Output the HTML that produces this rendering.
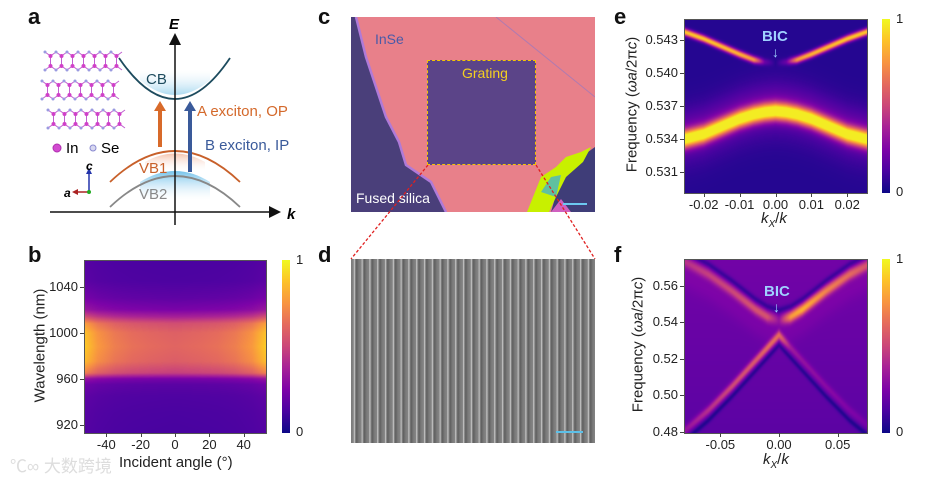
<!DOCTYPE html>
<html><head><meta charset="utf-8">
<style>
html,body{margin:0;padding:0;background:#fff;}
#root{position:relative;width:940px;height:486px;overflow:hidden;font-family:"Liberation Sans",Arial,sans-serif;color:#222;}
.abs{position:absolute;}
.lbl{position:absolute;font-weight:bold;font-size:22px;color:#111;}
.tick{position:absolute;font-size:13px;color:#222;white-space:nowrap;}
.ytl{text-align:right;width:40px;}
.xtl{text-align:center;width:40px;}
canvas{position:absolute;}
.cbar{position:absolute;width:8px;background:linear-gradient(to top,#0d0887,#4b03a1 13%,#7d03a8 25%,#a82296 38%,#cb4679 50%,#e56b5d 63%,#f89441 75%,#fdc328 88%,#f0f921);}
.axtitle{position:absolute;font-size:15px;color:#222;white-space:nowrap;}
</style></head>
<body>
<div id="root">

<div class="lbl" style="left:28px;top:4px">a</div>
<div class="lbl" style="left:28px;top:242px">b</div>
<div class="lbl" style="left:318px;top:4px">c</div>
<div class="lbl" style="left:318px;top:242px">d</div>
<div class="lbl" style="left:614px;top:4px">e</div>
<div class="lbl" style="left:614px;top:242px">f</div>

<!-- panel a -->
<svg class="abs" style="left:0;top:0" width="320" height="240">
<defs>
<linearGradient id="cbfill" x1="0" y1="1" x2="0" y2="0"><stop offset="0" stop-color="#7cc5e8" stop-opacity="0.9"/><stop offset="1" stop-color="#d8eef8" stop-opacity="0"/></linearGradient>
<linearGradient id="vbfill" x1="0" y1="0" x2="0" y2="1"><stop offset="0" stop-color="#6cc0ea" stop-opacity="0.95"/><stop offset="1" stop-color="#e0f0fa" stop-opacity="0"/></linearGradient>
<linearGradient id="vb1fill" x1="0" y1="0" x2="0" y2="1"><stop offset="0" stop-color="#f3b59a" stop-opacity="0.8"/><stop offset="1" stop-color="#fff" stop-opacity="0"/></linearGradient>
<marker id="ah" markerWidth="8" markerHeight="8" refX="6" refY="4" orient="auto"><path d="M0,0 L8,4 L0,8 z" fill="#111"/></marker>
</defs>
<path d="M140,80 Q175,110 210,80 L210,70 L140,70 Z" fill="url(#cbfill)" opacity="0.7"/>
<path d="M140,182 Q175,160 210,182 L210,200 L140,200 Z" fill="url(#vbfill)"/>
<path d="M145,162 Q175,145 205,162 L205,172 L145,172 Z" fill="url(#vb1fill)"/>
<path d="M119,58 Q175,140 230,58" fill="none" stroke="#1d4b5e" stroke-width="1.8"/>
<path d="M110,182 Q175,120 240,182" fill="none" stroke="#c8602a" stroke-width="1.8"/>
<path d="M110,207 Q175,145 240,207" fill="none" stroke="#888" stroke-width="1.8"/>
<line x1="175" y1="225" x2="175" y2="36" stroke="#111" stroke-width="1.5" marker-end="url(#ah)"/>
<line x1="50" y1="212" x2="278" y2="212" stroke="#111" stroke-width="1.5" marker-end="url(#ah)"/>
<text x="169" y="29" font-size="15" font-weight="bold" font-style="italic" font-family="Liberation Sans">E</text>
<text x="287" y="219" font-size="15" font-weight="bold" font-style="italic" font-family="Liberation Sans">k</text>
<text x="146" y="84" font-size="15" fill="#1d4b5e" font-family="Liberation Sans">CB</text>
<text x="139" y="173" font-size="15" fill="#c8602a" font-family="Liberation Sans">VB1</text>
<text x="139" y="199" font-size="15" fill="#888" font-family="Liberation Sans">VB2</text>
<line x1="160" y1="147" x2="160" y2="110" stroke="#d86a2a" stroke-width="4"/>
<path d="M154,111 L160,101 L166,111 Z" fill="#d86a2a"/>
<line x1="190" y1="172" x2="190" y2="110" stroke="#3a5a9a" stroke-width="4"/>
<path d="M184,111 L190,101 L196,111 Z" fill="#3a5a9a"/>
<text x="197" y="116" font-size="15" fill="#d4692b" font-family="Liberation Sans">A exciton, OP</text>
<text x="205" y="150" font-size="15" fill="#3a5a9a" font-family="Liberation Sans">B exciton, IP</text>
<g id="crystal"></g>
<circle cx="57" cy="148" r="4" fill="#d24bd0" stroke="#b030b0"/>
<text x="66" y="153" font-size="15" font-family="Liberation Sans">In</text>
<circle cx="93" cy="148" r="3" fill="#d8d8f0" stroke="#8a8ad0"/>
<text x="101" y="153" font-size="15" font-family="Liberation Sans">Se</text>
<line x1="89" y1="192" x2="89" y2="172" stroke="#2233aa" stroke-width="1.5"/><path d="M86,174 L89,168 L92,174Z" fill="#2233aa"/>
<line x1="89" y1="192" x2="76" y2="192" stroke="#aa2222" stroke-width="1.5"/><path d="M78,189 L72,192 L78,195Z" fill="#aa2222"/>
<circle cx="89" cy="192" r="2" fill="#22aa22"/>
<text x="86" y="170" font-size="12" font-weight="bold" font-style="italic" font-family="Liberation Sans">c</text>
<text x="64" y="197" font-size="12" font-weight="bold" font-style="italic" font-family="Liberation Sans">a</text>
</svg>

<!-- panel b -->
<canvas id="cb" width="182" height="173" style="left:84px;top:260px"></canvas>
<div class="abs" style="left:84px;top:260px;width:181px;height:172px;border:1px solid #555"></div>
<div class="cbar" style="left:282px;top:260px;height:173px"></div>
<div class="tick" style="left:296px;top:252px">1</div>
<div class="tick" style="left:296px;top:424px">0</div>
<div class="axtitle" style="left:-30px;top:337px;transform:rotate(-90deg);width:140px;text-align:center">Wavelength (nm)</div>
<div class="axtitle" style="left:119px;top:454px">Incident angle (°)</div>
<div class="abs" style="left:10px;top:452px;font-size:17px;color:#ddd;font-family:'Liberation Sans','Noto Sans CJK SC',sans-serif">℃∞ 大数跨境</div>

<!-- panel c -->
<div class="abs" style="left:351px;top:17px;width:244px;height:195px;background:#e8808a;overflow:hidden">
<svg width="244" height="195" style="position:absolute;left:0;top:0">
<path d="M0,0 L5,0 L15,40 L35,100 L48,125 L55,148 L80,165 L95,195 L0,195 Z" fill="#4a3f7a"/>
<path d="M5,0 L15,40 L35,100 L48,125 L55,148 L80,165 L95,195" fill="none" stroke="#b07ad8" stroke-width="2.5"/>
<path d="M244,130 L244,195 L200,195 L210,160 L230,140 Z" fill="#3f3d78"/>
<path d="M176,195 L190,160 L205,150 L215,140 L230,135 L240,130 L232,145 L215,160 L205,180 L198,195 Z" fill="#c8f000"/>
<path d="M190,175 L200,160 L210,158 L205,180 Z" fill="#60c0a0"/>
<path d="M200,195 L210,182 L220,195 Z" fill="#d060c0"/>
<line x1="145" y1="0" x2="244" y2="80" stroke="#b07ab0" stroke-width="1"/>
</svg>
<div class="abs" style="left:76px;top:43px;width:107px;height:103px;background:#5b4488;border:1.5px dashed #f5c400"></div>
<div class="abs" style="left:24px;top:14px;font-size:14px;color:#4a5aa8">InSe</div>
<div class="abs" style="left:111px;top:48px;font-size:14px;color:#f5d020">Grating</div>
<div class="abs" style="left:5px;top:173px;font-size:14px;color:#fff">Fused silica</div>
<div class="abs" style="left:212px;top:186px;width:24px;height:2px;background:#6cc8f0"></div>
</div>
<svg class="abs" style="left:340px;top:160px" width="270" height="105">
<line x1="88" y1="5" x2="11" y2="99" stroke="#e02020" stroke-width="1.3" stroke-dasharray="3,2"/>
<line x1="196" y1="5" x2="255" y2="99" stroke="#e02020" stroke-width="1.3" stroke-dasharray="3,2"/>
</svg>

<!-- panel d -->
<div class="abs" style="left:351px;top:259px;width:244px;height:184px;background:repeating-linear-gradient(to right,#7a7a7a 0px,#858585 2.5px,#cfcfcf 3.2px,#8a8a8a 4.2px,#5e5e5e 5.5px,#7a7a7a 7.8px)">
<div class="abs" style="left:205px;top:172px;width:27px;height:2px;background:#5cc0e8"></div>
</div>

<!-- panel e -->
<canvas id="ce" width="183" height="174" style="left:684px;top:19px"></canvas>
<div class="abs" style="left:684px;top:19px;width:182px;height:173px;border:1px solid #555"></div>
<div class="cbar" style="left:882px;top:19px;height:174px"></div>
<div class="tick" style="left:896px;top:11px">1</div>
<div class="tick" style="left:896px;top:184px">0</div>
<div class="abs" style="left:762px;top:28px;font-size:15px;font-weight:bold;color:#9fd0ff">BIC</div>
<div class="abs" style="left:772px;top:44px;font-size:14px;color:#9fd0ff">↓</div>
<div class="axtitle" style="left:552px;top:96px;transform:rotate(-90deg);width:160px;text-align:center">Frequency (<i>ωa</i>/2π<i>c</i>)</div>
<div class="axtitle" style="left:761px;top:210px"><i>k<sub style="font-size:10px">X</sub></i>/<i>k</i></div>

<!-- panel f -->
<canvas id="cf" width="183" height="174" style="left:684px;top:259px"></canvas>
<div class="abs" style="left:684px;top:259px;width:182px;height:173px;border:1px solid #555"></div>
<div class="cbar" style="left:882px;top:259px;height:174px"></div>
<div class="tick" style="left:896px;top:251px">1</div>
<div class="tick" style="left:896px;top:424px">0</div>
<div class="abs" style="left:764px;top:283px;font-size:15px;font-weight:bold;color:#9fd0ff">BIC</div>
<div class="abs" style="left:773px;top:299px;font-size:14px;color:#9fd0ff">↓</div>
<div class="axtitle" style="left:558px;top:336px;transform:rotate(-90deg);width:160px;text-align:center">Frequency (<i>ωa</i>/2π<i>c</i>)</div>
<div class="axtitle" style="left:763px;top:451px"><i>k<sub style="font-size:10px">X</sub></i>/<i>k</i></div>

<div id="ticks"></div>
</div>

<script>
// ---------- data ----------
const bAngles = [-53,-45,-35,-25,-15,0,15,25,35,45,53];
const bAmp = [0.92,0.78,0.7,0.66,0.64,0.62,0.64,0.66,0.7,0.78,0.92];
const bWl = [912,930,945,955,960,965,975,988,1000,1008,1014,1020,1030,1045,1070];
const bProf = [0.1,0.11,0.13,0.18,0.3,0.75,0.95,1,0.97,0.85,0.55,0.32,0.2,0.12,0.1];
const bXTicks = [-40,-20,0,20,40];
const bYTicks = [920,960,1000,1040];

const eK = [-0.026,-0.02,-0.015,-0.01,-0.006,-0.003,0,0.003,0.006,0.01,0.015,0.02,0.026];
const eUpperF = [0.5438,0.5431,0.5424,0.5417,0.5412,0.5410,0.5409,0.5410,0.5412,0.5417,0.5424,0.5431,0.5438];
const eUpperI = [0.85,0.85,0.82,0.8,0.72,0.15,0,0.15,0.72,0.8,0.82,0.85,0.85];
const eLowerF = [0.5339,0.5344,0.5351,0.5358,0.5362,0.5364,0.5365,0.5364,0.5362,0.5358,0.5351,0.5344,0.5339];
const eLowerI = [0.95,0.95,0.95,0.96,0.96,0.96,0.96,0.96,0.96,0.96,0.95,0.95,0.95];
const eXTicks = [-0.02,-0.01,0,0.01,0.02];
const eYTicks = [0.531,0.534,0.537,0.540,0.543];

const fK = [-0.08,-0.06,-0.04,-0.02,-0.01,0,0.01,0.02,0.04,0.06,0.075];
const fUpperF = [0.573,0.566,0.557,0.547,0.543,0.541,0.543,0.547,0.557,0.566,0.571];
const fUpperI = [0.2,0.25,0.28,0.33,0.33,0.1,0.55,0.62,0.48,0.4,0.32];
const fLowerF = [0.481,0.492,0.505,0.519,0.526,0.533,0.526,0.519,0.505,0.492,0.484];
const fLowerI = [0.15,0.25,0.33,0.38,0.42,0.4,0.15,0.12,0.1,0.08,0.06];
const fXTicks = [-0.05,0,0.05];
const fYTicks = [0.48,0.50,0.52,0.54,0.56];

// ---------- helpers ----------
const plasma=[[0,13,8,135],[0.13,75,3,161],[0.25,125,3,168],[0.38,168,34,150],[0.5,203,70,121],[0.63,229,107,93],[0.75,248,148,65],[0.88,253,195,40],[1,240,249,33]];
function cmap(t){t=Math.max(0,Math.min(1,t));for(let i=1;i<plasma.length;i++){if(t<=plasma[i][0]){const a=plasma[i-1],b=plasma[i],u=(t-a[0])/(b[0]-a[0]);return [a[1]+u*(b[1]-a[1]),a[2]+u*(b[2]-a[2]),a[3]+u*(b[3]-a[3])];}}return plasma[8].slice(1);}
function interp(xs,ys,x){if(x<=xs[0])return ys[0];for(let i=1;i<xs.length;i++){if(x<=xs[i]){const u=(x-xs[i-1])/(xs[i]-xs[i-1]);return ys[i-1]+u*(ys[i]-ys[i-1]);}}return ys[ys.length-1];}
function lin(d0,d1,r0,r1){return v=>r0+(v-d0)/(d1-d0)*(r1-r0);}
function render(id,xs,ys,fn){const c=document.getElementById(id),ctx=c.getContext('2d'),W=c.width,H=c.height,img=ctx.createImageData(W,H);
 for(let j=0;j<H;j++)for(let i=0;i<W;i++){const v=fn(xs(i+0.5),ys(j+0.5));const col=cmap(v);const k=(j*W+i)*4;img.data[k]=col[0];img.data[k+1]=col[1];img.data[k+2]=col[2];img.data[k+3]=255;}
 ctx.putImageData(img,0,0);}
const g=(x,s)=>Math.exp(-x*x/(2*s*s));
const root=document.getElementById('ticks');
function addTicks(panel,xScale,yScale,xT,yT,left,top,w,h,fmtX,fmtY){
 xT.forEach(v=>{const x=left+xScale(v);
  const t=document.createElement('div');t.className='abs';t.style.cssText=`left:${x}px;top:${top+h}px;width:1px;height:4px;background:#444`;
  
  
  root.appendChild(t);
  const l=document.createElement('div');l.className='tick xtl';l.style.left=(x-20)+'px';l.style.top=(top+h+4)+'px';l.textContent=fmtX(v);
  
  
  root.appendChild(l);});
 yT.forEach(v=>{const y=top+yScale(v);
  const t=document.createElement('div');t.className='abs';t.style.cssText=`left:${left-4}px;top:${y}px;width:4px;height:1px;background:#444`;
  
  
  root.appendChild(t);
  const l=document.createElement('div');l.className='tick ytl';l.style.left=(left-46)+'px';l.style.top=(y-8)+'px';l.textContent=fmtY(v);
  
  
  root.appendChild(l);});
}

// ---------- panel b ----------
{const xs=lin(0,182,-53,53),ys=lin(0,173,1063,913);
 render('cb',xs,ys,(a,w)=>{const p=interp(bWl,bProf,w),A=interp(bAngles,bAmp,a);return 0.07+p*(A-0.07)*0.98;});
 addTicks('b',v=>(v+53)/106*182,v=>(1063-v)/150*173,bXTicks,bYTicks,84,260,182,173,v=>String(v),v=>String(v));}

// ---------- panel e ----------
{const xs=lin(0,183,-0.0255,0.0255),ys=lin(0,174,0.5449,0.5291);
 render('ce',xs,ys,(k,f)=>{const uf=interp(eK,eUpperF,k),ui=interp(eK,eUpperI,k),lf=interp(eK,eLowerF,k),li=interp(eK,eLowerI,k);
  let v=0.05+ui*g(f-uf,0.00022)+li*g(f-lf,0.00055)+0.22*g(f-lf,0.0017)*(f>lf?1:0.6);return Math.min(v,0.97);});
 addTicks('e',v=>(v+0.0255)/0.051*183,v=>(0.5449-v)/0.0158*174,eXTicks,eYTicks,684,19,183,174,v=>v.toFixed(2),v=>v.toFixed(3));}

// ---------- panel f ----------
{const xs=lin(0,183,-0.081,0.075),ys=lin(0,174,0.5745,0.4795);
 render('cf',xs,ys,(k,f)=>{const uf=interp(fK,fUpperF,k),ui=interp(fK,fUpperI,k),lf=interp(fK,fLowerF,k),li=interp(fK,fLowerI,k);
  let v=0.17+0.05*(f-0.48)/0.09;
  v+=ui*g(f-uf,0.0022)+li*g(f-lf,0.0018);
  v-=0.13*g(f-(uf+0.0055),0.0013)+0.13*g(f-(lf-0.0055),0.0013);
  v+=0.04*g(f-uf+0.008,0.005);
  return Math.max(0.03,Math.min(v,0.97));});
 addTicks('f',v=>(v+0.081)/0.156*183,v=>(0.5745-v)/0.095*174,fXTicks,fYTicks,684,259,183,174,v=>v===0?'0.00':v.toFixed(2),v=>v.toFixed(2));}

// ---------- crystal in panel a ----------
{const cr=document.getElementById('crystal');const ns='http://www.w3.org/2000/svg';
 const rowsY=[52,81,110];const rowsX0=[45,42,48];
 rowsY.forEach((y0,r)=>{for(let n=0;n<7;n++){const x=rowsX0[r]+n*11;
  const p=document.createElementNS(ns,'path');p.setAttribute('d',`M${x},${y0} L${x+5.5},${y0+4} L${x+11},${y0} M${x+5.5},${y0+4} L${x+5.5},${y0+14} M${x},${y0+18} L${x+5.5},${y0+14} L${x+11},${y0+18}`);
  p.setAttribute('stroke','#c060d0');p.setAttribute('fill','none');p.setAttribute('stroke-width','1');cr.appendChild(p);
  [[x+5.5,y0+4],[x+5.5,y0+14]].forEach(q=>{const c=document.createElementNS(ns,'circle');c.setAttribute('cx',q[0]);c.setAttribute('cy',q[1]);c.setAttribute('r','2');c.setAttribute('fill','#d040c8');cr.appendChild(c);});
  [[x,y0],[x,y0+18]].forEach(q=>{const c=document.createElementNS(ns,'circle');c.setAttribute('cx',q[0]);c.setAttribute('cy',q[1]);c.setAttribute('r','1.5');c.setAttribute('fill','#9a9ae0');cr.appendChild(c);});
 }});}
</script>
</body></html>
